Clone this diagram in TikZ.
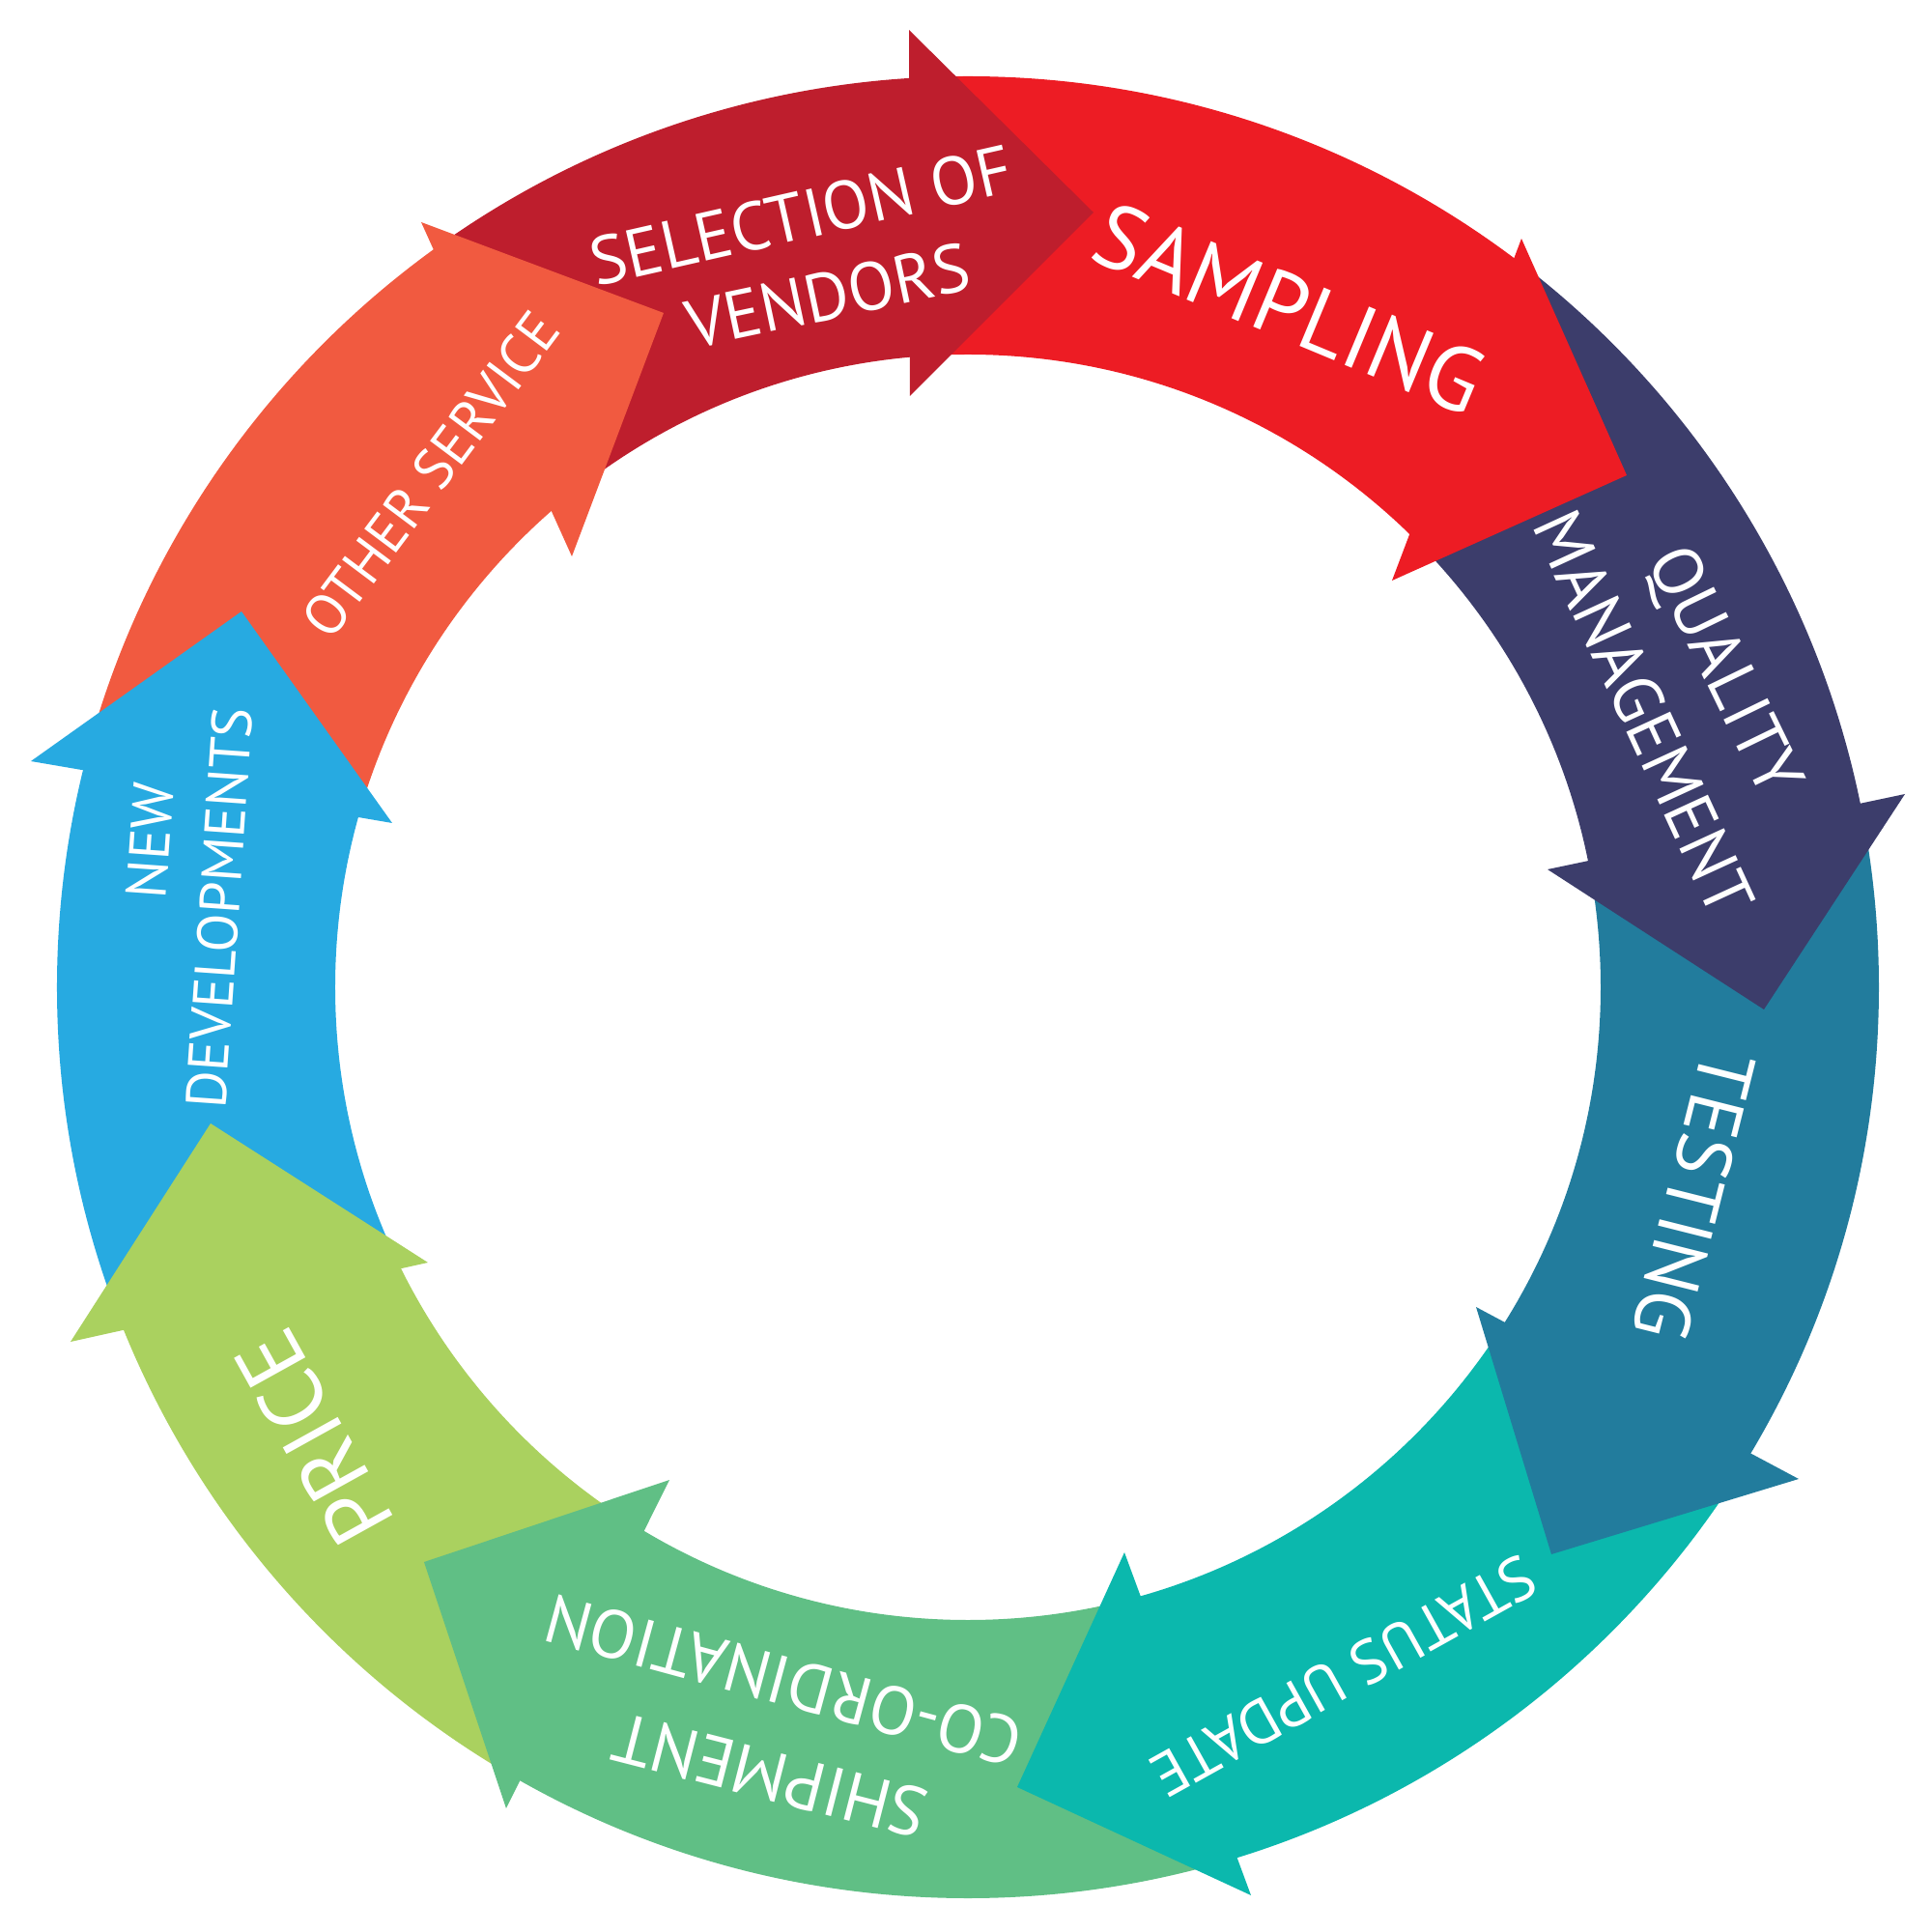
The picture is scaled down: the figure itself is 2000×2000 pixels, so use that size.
\documentclass[tikz,border=0pt]{standalone}
\usepackage{fontspec}
\setmainfont{PT Sans}
\usetikzlibrary{calc}

\definecolor{vendorred}{HTML}{BE1E2D}
\definecolor{samplered}{HTML}{ED1C24}
\definecolor{qualnavy}{HTML}{3C3D6B}
\definecolor{testblue}{HTML}{227C9D}
\definecolor{statusteal}{HTML}{0BB8AD}
\definecolor{shipgreen}{HTML}{60BF85}
\definecolor{pricelime}{HTML}{AAD15F}
\definecolor{newblue}{HTML}{27AAE1}
\definecolor{otherorange}{HTML}{F15A40}

\begin{document}
\begin{tikzpicture}[x=0.01cm,y=0.01cm,
  ring label/.style={text=white,inner sep=0pt}]

\useasboundingbox (-1002,-978) rectangle (998,1022);

% arrow heads: outer end, inner end and tip
\coordinate (SV-o) at (-61,991);   \coordinate (SV-i) at (-60,612);   \coordinate (SV-t) at (130,802);
\coordinate (SA-o) at (573,775);   \coordinate (SA-i) at (439,421);   \coordinate (SA-t) at (682,530);
\coordinate (QM-o) at (970,200);   \coordinate (QM-i) at (600,122);   \coordinate (QM-t) at (824,-23);
\coordinate (TE-o) at (860,-509);  \coordinate (TE-i) at (526,-331);  \coordinate (TE-t) at (604,-587);
\coordinate (SU-o) at (293,-940);  \coordinate (SU-i) at (162,-585);  \coordinate (SU-t) at (51,-828);
\coordinate (SC-o) at (-478,-850); \coordinate (SC-i) at (-309,-510); \coordinate (SC-t) at (-563,-595);
\coordinate (PR-o) at (-929,-367); \coordinate (PR-i) at (-559,-285); \coordinate (PR-t) at (-784,-141);
\coordinate (ND-o) at (-970,234);  \coordinate (ND-i) at (-596,170);  \coordinate (ND-t) at (-752,389);
\coordinate (OS-o) at (-566,792);  \coordinate (OS-i) at (-410,446);  \coordinate (OS-t) at (-315,698);

% where one ring piece hands over to the next (hidden under the head)
\foreach \a in {SV,SA,QM,TE,SU,SC,PR,ND,OS} {
  \coordinate (\a-co) at ($(\a-o)!0.04!(\a-t)$);
  \coordinate (\a-ci) at ($(\a-i)!0.04!(\a-t)$);
}

% ring pieces
\foreach \p/\a/\c in {OS/SV/vendorred,SV/SA/samplered,SA/QM/qualnavy,QM/TE/testblue,
    TE/SU/statusteal,SU/SC/shipgreen,SC/PR/pricelime,PR/ND/newblue,ND/OS/otherorange} {
  \begin{scope}
    \clip (\p-co) -- (\p-ci) -- (0,0) -- (\a-ci) -- (\a-co) -- ($2*(\a-co)$) -- ($2*(\p-co)$) -- cycle;
    \fill[\c,even odd rule] (0,0) circle (943) (0,0) circle (655);
  \end{scope}
}

% heads
\foreach \a/\c in {SV/vendorred,SA/samplered,QM/qualnavy,TE/testblue,SU/statusteal,
    SC/shipgreen,PR/pricelime,ND/newblue,OS/otherorange}
  \fill[\c] (\a-o) -- (\a-t) -- (\a-i) -- cycle;

% labels
\node[ring label,rotate=12.8,font=\fontsize{20}{24}\selectfont] (selA) at (-173,799) {SELECTION OF};
\node[ring label,rotate=12,font=\fontsize{20}{24}\selectfont] (selB) at (-145,716) {VENDORS};
\node[ring label,rotate=-22.6,font=\fontsize{26.6}{30}\selectfont] (samp) at (333,703) {SAMPLING};
\node[ring label,rotate=-64.1,font=\fontsize{20.5}{24}\selectfont] (qualA) at (780,326) {QUALITY};
\node[ring label,rotate=-65.3,font=\fontsize{20.3}{24}\selectfont] (qualB) at (700,284) {MANAGEMENT};
\node[ring label,rotate=-104.1,font=\fontsize{23}{27}\selectfont] (test) at (752,-216) {TESTING};
\node[ring label,rotate=209.1,font=\fontsize{18.1}{22}\selectfont] (stat) at (389,-713) {STATUS UPDATE};
\node[ring label,rotate=165.6,font=\fontsize{20.5}{24}\selectfont] (shipA) at (-205,-816) {SHIPMENT};
\node[ring label,rotate=164.8,font=\fontsize{20}{24}\selectfont] (shipB) at (-191,-718) {CO-ORDINATION};
\node[ring label,rotate=119,font=\fontsize{26.4}{30}\selectfont] (price) at (-677,-466) {PRICE};
\node[ring label,rotate=86,font=\fontsize{16.7}{20}\selectfont] (newA) at (-847,152) {NEW};
\node[ring label,rotate=86,font=\fontsize{16.7}{20}\selectfont] (newB) at (-775,82) {DEVELOPMENTS};
\node[ring label,rotate=53.2,font=\fontsize{16.7}{20}\selectfont] (other) at (-556,531) {OTHER SERVICE};

\end{tikzpicture}
\end{document}
